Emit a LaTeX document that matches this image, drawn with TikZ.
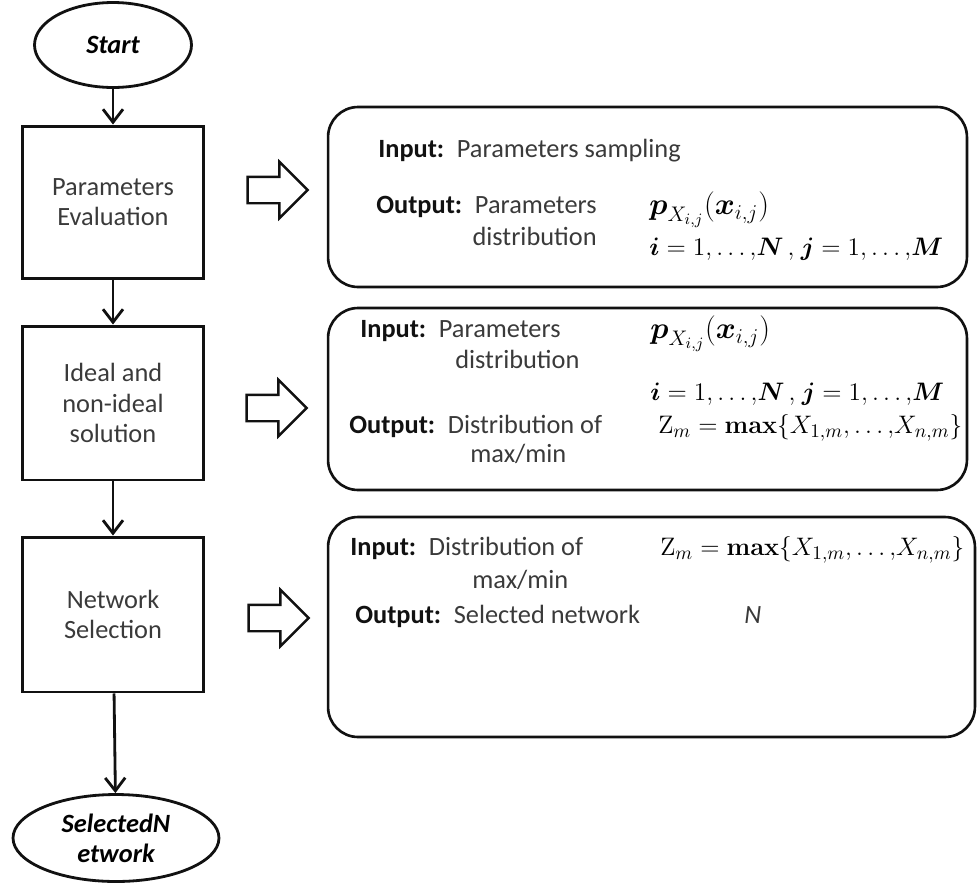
\documentclass[tikz,border=0pt]{standalone}
\usepackage{amsmath}
\usepackage[no-math]{fontspec}
\setmainfont{Carlito}
\usepackage{xcolor}
\usetikzlibrary{arrows.meta,positioning,shapes.geometric,shapes.arrows}
\definecolor{flowInk}{HTML}{111111}
\definecolor{flowText}{HTML}{3A3A3A}

\begin{document}
\begin{tikzpicture}[x=0.02cm,y=-0.02cm,>={Straight Barb[length=2.6mm,width=4mm]},
  term/.style={ellipse,draw=flowInk,line width=1.6pt,inner sep=0pt,align=center,
    font=\fontsize{15}{17}\selectfont\bfseries\itshape},
  proc/.style={draw=flowInk,line width=1.7pt,minimum width=3.64cm,minimum height=#1,
    align=center,text=flowText,font=\fontsize{15}{17.2}\selectfont},
  info/.style={draw=flowInk,rounded corners=6mm,line width=1.5pt,minimum width=#1},
  fat/.style={single arrow,draw=flowInk,line width=1.4pt,inner xsep=0pt,inner ysep=0.24cm,
    minimum height=1.2cm,minimum width=0pt,single arrow head extend=0.3cm},
  key/.style={anchor=base west,inner sep=0pt,text=flowInk,font=\fontsize{15}{17}\selectfont\bfseries},
  txt/.style={anchor=base west,inner sep=0pt,text=flowText,font=\fontsize{15}{17}\selectfont},
  eq/.style={anchor=west,inner sep=0pt,font=\fontsize{#1}{20}\selectfont},
  eq/.default=15.8
]
  \useasboundingbox (0,0) rectangle (980,883);

  \node[term,minimum width=3.14cm,minimum height=1.7cm] (start) at (113,45) {Start};
  \node[proc=3.06cm] (eval) at (113,202.5) {Parameters\\Evaluation};
  \node[proc=3.08cm] (ideal) at (113,403) {Ideal and\\non-ideal\\solution};
  \node[proc=3.1cm] (select) at (113,614.5) {Network\\Selection};
  \node[term,minimum width=4.12cm,minimum height=1.74cm] (done) at (116,838) {SelectedN\\etwork};

  \draw[->,line width=1.6pt,draw=flowInk] (start) -- (eval);
  \draw[->,line width=1.6pt,draw=flowInk] (eval) -- (ideal);
  \draw[->,line width=1.6pt,draw=flowInk] (ideal) -- (select);
  \draw[->,line width=1.6pt,draw=flowInk] (select) -- (done);

  \node[fat] (push1) at (271,190) {};
  \node[fat] (push2) at (270,408) {};
  \node[fat] (push3) at (272,618) {};

  \node[info=12.78cm,minimum height=3.6cm] (box1) at (647.5,197) {};
  \node[info=12.78cm,minimum height=3.64cm] (box2) at (647.5,399) {};
  \node[info=12.94cm,minimum height=4.4cm] (box3) at (651.5,627) {};

  \node[key] (in1) at (378,157) {Input:};
  \node[txt,base right=0.24cm of in1] {Parameters sampling};
  \node[key] (out1) at (376,213) {Output:};
  \node[txt,anchor=base east] at (597,213) {Parameters};
  \node[txt,anchor=base east] at (597,245) {distribution};
  \node[eq=17.5] (pdf1) at (649,210) {$\boldsymbol{p}_{X_{i,j}}(\boldsymbol{x}_{i,j})$};
  \node[eq] (idx1) at (649,249) {$\boldsymbol{i}=1{,}\ldots{,}\boldsymbol{N}\,{,}\ \boldsymbol{j}=1{,}\ldots{,}\boldsymbol{M}$};

  \node[key] (in2) at (360,337) {Input:};
  \node[txt,base right=0.24cm of in2] {Parameters};
  \node[txt] at (455,368) {distribution};
  \node[key] (out2) at (349,433) {Output:};
  \node[txt,base right=0.24cm of out2] {Distribution of};
  \node[txt] at (470,462) {max/min};
  \node[eq=17.5] (pdf2) at (650,334) {$\boldsymbol{p}_{X_{i,j}}(\boldsymbol{x}_{i,j})$};
  \node[eq] (idx2) at (650,394) {$\boldsymbol{i}=1{,}\ldots{,}\boldsymbol{N}\,{,}\ \boldsymbol{j}=1{,}\ldots{,}\boldsymbol{M}$};
  \node[eq] (max2) at (658,428) {$\mathrm{Z}_m=\mathbf{max}\{X_{1,m}{,}\ldots{,}X_{n,m}\}$};

  \node[key] (in3) at (350,555) {Input:};
  \node[txt,base right=0.24cm of in3] {Distribution of};
  \node[txt] at (472,588) {max/min};
  \node[key] (out3) at (355,623) {Output:};
  \node[txt,base right=0.24cm of out3] {Selected network};
  \node[txt] at (744,623) {\textit{N}};
  \node[eq] (max3) at (660,550) {$\mathrm{Z}_m=\mathbf{max}\{X_{1,m}{,}\ldots{,}X_{n,m}\}$};
\end{tikzpicture}
\end{document}
